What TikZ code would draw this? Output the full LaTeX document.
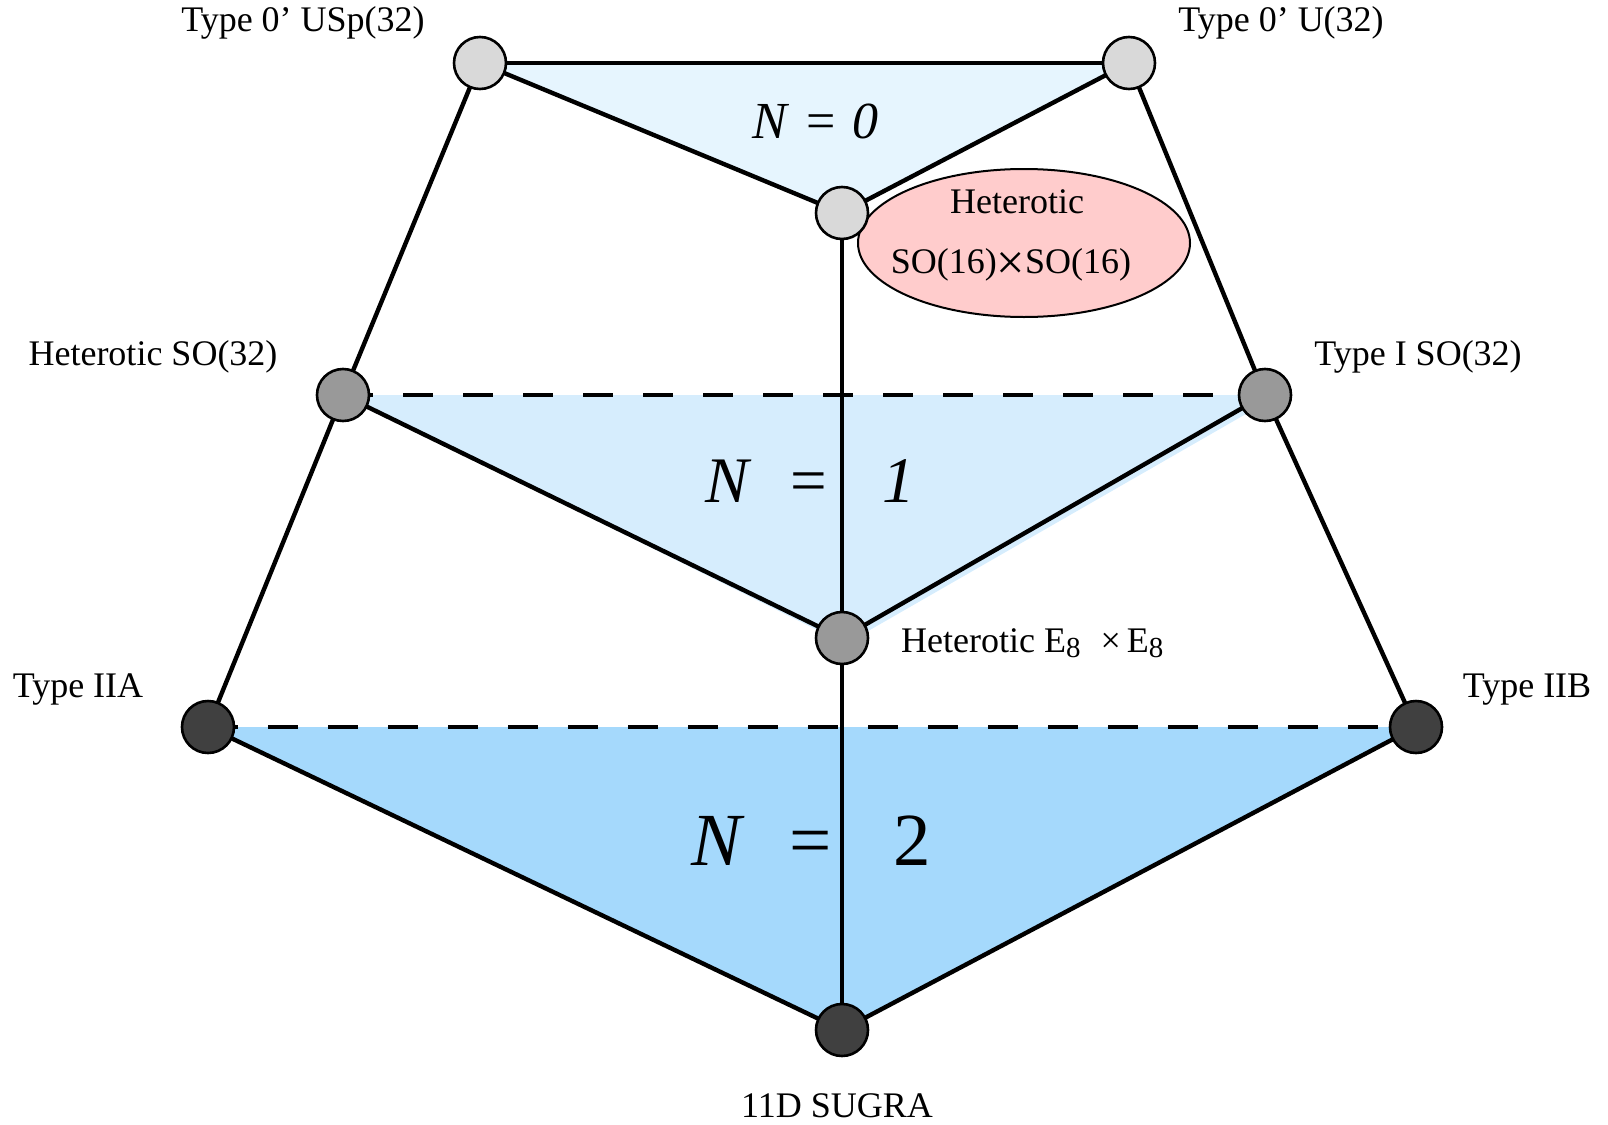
\documentclass[tikz,border=0pt]{standalone}
\usepackage{fontspec}
\usepackage{graphicx}
\setmainfont{Liberation Serif}
\usetikzlibrary{calc}
\pgfdeclarelayer{fillbg}
\pgfdeclarelayer{edgebg}
\pgfsetlayers{fillbg,edgebg,main}
\definecolor{nzero}{HTML}{E6F5FE}
\definecolor{none}{HTML}{D6EDFD}
\definecolor{ntwo}{HTML}{A5D9FC}
\definecolor{nodelite}{HTML}{D9D9D9}
\definecolor{nodemid}{HTML}{999999}
\definecolor{nodedark}{HTML}{404040}
\definecolor{ellred}{HTML}{FFCCCC}
\newcommand{\subeight}{\raisebox{-5pt}{\fontsize{29}{29}\selectfont 8}}
\begin{document}
\begin{tikzpicture}[x=1pt,y=-1pt,
  vert/.style={circle,draw=black,line width=2.6pt,minimum size=52pt,inner sep=0pt},
  lite/.style={vert,fill=nodelite},
  midv/.style={vert,fill=nodemid},
  darkv/.style={vert,fill=nodedark},
  edge/.style={line width=4.4pt},
  dashedge/.style={edge,dash pattern=on 30pt off 30pt},
  lbl/.style={font=\fontsize{36}{40}\selectfont,anchor=base,inner sep=0pt},
  nlbl/.style={anchor=base west,inner sep=0pt}]
\useasboundingbox (0,0) rectangle (1608,1124);

% ellipse (under the node)
\draw[line width=2pt,fill=ellred] (1024,243) ellipse [x radius=166pt,y radius=74pt];

% vertices
\node[lite] (usp) at (480,63) {};
\node[lite] (u32) at (1129,63) {};
\node[lite] (so16) at (842,213) {};
\node[midv] (hso) at (343,395) {};
\node[midv] (ti) at (1265,395) {};
\node[midv] (e8) at (842,638) {};
\node[darkv] (iia) at (208,727) {};
\node[darkv] (iib) at (1416,727) {};
\node[darkv] (sugra) at (842,1030) {};

% fills
\begin{pgfonlayer}{fillbg}
\fill[nzero] (usp.center) -- (u32.center) -- (so16.center) -- cycle;
\fill[none] (hso.center) -- ($(ti.center)+(14,0)$) -- ($(e8.center)+(3.5,6)$) -- cycle;
\fill[ntwo] (iia.center) -- (iib.center) -- (sugra.center) -- cycle;
\end{pgfonlayer}

% edges
\begin{pgfonlayer}{edgebg}
\draw[edge] (usp.center) -- (u32.center);
\draw[edge] (usp.center) -- (so16.center);
\draw[edge] (u32.center) -- (so16.center);
\draw[edge] (usp.center) -- (hso.center);
\draw[edge] (u32.center) -- (ti.center);
\draw[edge] (so16.center) -- (e8.center);
\draw[dashedge] (hso.center) -- (ti.center);
\draw[edge] (hso.center) -- (e8.center);
\draw[edge] (ti.center) -- (e8.center);
\draw[edge] (hso.center) -- (iia.center);
\draw[edge] (ti.center) -- (iib.center);
\draw[edge] (e8.center) -- (sugra.center);
\draw[dashedge] (iia.center) -- (iib.center);
\draw[edge] (iia.center) -- (sugra.center);
\draw[edge] (iib.center) -- (sugra.center);
\end{pgfonlayer}

% labels
\node[lbl] (tusp) at (303,32) {Type 0’ USp(32)};
\node[lbl] (tu32) at (1281,32) {Type 0’ U(32)};
\node[lbl] (thso) at (153,365) {Heterotic SO(32)};
\node[lbl] (tti) at (1418,365) {Type I SO(32)};
\node[lbl] (tiia) at (78,697) {Type IIA};
\node[lbl] (tiib) at (1527,697) {Type IIB};
\node[lbl] (tsugra) at (837,1117) {11D SUGRA};
\node[lbl,anchor=base west] (te8) at (901,652) {Heterotic E\subeight\hspace{20pt}×\hspace{6pt}E\subeight};
\node[lbl] (thet) at (1017,213) {Heterotic};
\node[lbl] (tso16) at (1011,273) {SO(16)\raisebox{-6pt}{\scalebox{1.4}{×}}SO(16)};

% N labels
\node[nlbl,font=\fontsize{52}{56}\selectfont] (n0) at (751.9,138) {\textit{N}\hspace{17.2pt}=\hspace{17.2pt}\textit{0}};
\node[nlbl,font=\fontsize{65}{70}\selectfont] (n1) at (705.3,502) {\textit{N}\hspace{39pt}=\hspace{55pt}\textit{1}};
\node[nlbl,font=\fontsize{75}{80}\selectfont] (n2) at (691,865) {\textit{N}\hspace{44.9pt}=\hspace{61.5pt}2};
\end{tikzpicture}
\end{document}
